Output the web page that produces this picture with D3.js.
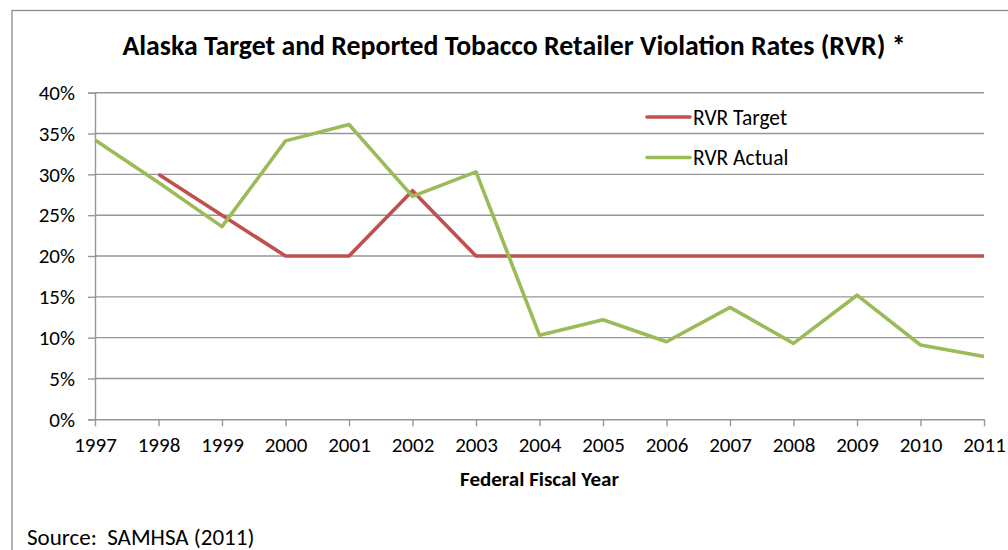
<!DOCTYPE html>
<html>
<head>
<meta charset="utf-8">
<script src="https://cdn.jsdelivr.net/npm/d3@7"></script>
<style>
  html, body { margin: 0; padding: 0; background: #fff; }
  svg { display: block; font-family: Carlito, Calibri, Lato, "Liberation Sans", sans-serif; }
  text { white-space: pre; }
</style>
</head>
<body>
<svg id="chart" width="1008" height="550"></svg>
<script>
// Fiscal years on the x axis
const years = [1997, 1998, 1999, 2000, 2001, 2002, 2003, 2004, 2005, 2006, 2007, 2008, 2009, 2010, 2011];
// Target violation rate (%), no target set for 1997
const rvrTarget = [null, 30, 25, 20, 20, 28, 20, 20, 20, 20, 20, 20, 20, 20, 20];
// Reported violation rate (%)
const rvrActual = [34.2, 29.0, 23.6, 34.1, 36.1, 27.3, 30.3, 10.3, 12.2, 9.5, 13.7, 9.3, 15.2, 9.1, 7.7];
// Y axis ticks (%)
const yTicks = [0, 5, 10, 15, 20, 25, 30, 35, 40];

const series = [
  { name: "RVR Target", values: rvrTarget, color: "#C0504D" },
  { name: "RVR Actual", values: rvrActual, color: "#9BBB59" }
];

const svg = d3.select("#chart");
const plotLeft = 95, plotRight = 984, plotTop = 92.7, plotBottom = 419.3;
const fontStack = "Carlito, Calibri, Lato, 'Liberation Sans', sans-serif";

const x = d3.scaleLinear().domain([years[0], years[years.length - 1]]).range([plotLeft, plotRight]);
const y = d3.scaleLinear().domain([0, 40]).range([plotBottom, plotTop]);

// Outer chart border
svg.append("rect")
  .attr("x", 12).attr("y", 10.5).attr("width", 1010).attr("height", 560)
  .attr("fill", "#fff").attr("stroke", "#8c8c8c").attr("stroke-width", 1.3);

// Title
svg.append("text")
  .attr("x", 514).attr("y", 55)
  .attr("text-anchor", "middle")
  .attr("font-weight", "bold").attr("font-size", 27.8)
  .text("Alaska Target and Reported Tobacco Retailer Violation Rates (RVR) *");

// Horizontal gridlines
svg.append("g")
  .selectAll("line").data(yTicks.filter(d => d > 0)).join("line")
  .attr("x1", plotLeft).attr("x2", plotRight)
  .attr("y1", d => y(d)).attr("y2", d => y(d))
  .attr("stroke", "#979797").attr("stroke-width", 1.4);

// Y axis
const yAxis = svg.append("g")
  .attr("transform", `translate(${plotLeft},0)`)
  .call(d3.axisLeft(y).tickValues(yTicks).tickSize(7).tickPadding(13).tickFormat(d => d + "%"));
yAxis.select(".domain").attr("stroke", "#979797").attr("stroke-width", 1.4);
yAxis.selectAll(".tick line").attr("stroke", "#979797").attr("stroke-width", 1.4);
yAxis.selectAll(".tick text").attr("font-size", 21).attr("fill", "#000")
  .attr("font-family", fontStack);

// X axis
const xAxis = svg.append("g")
  .attr("transform", `translate(0,${plotBottom})`)
  .call(d3.axisBottom(x).tickValues(years).tickSize(7).tickSizeOuter(0).tickPadding(11).tickFormat(d3.format("d")));
xAxis.select(".domain").attr("stroke", "#979797").attr("stroke-width", 1.4);
xAxis.selectAll(".tick line").attr("stroke", "#979797").attr("stroke-width", 1.4);
xAxis.selectAll(".tick text").attr("font-size", 21).attr("fill", "#000")
  .attr("font-family", fontStack);

// Series lines
const line = d3.line()
  .defined(d => d.v !== null)
  .x(d => x(d.year))
  .y(d => y(d.v));

svg.append("g")
  .selectAll("path").data(series).join("path")
  .attr("d", s => line(years.map((yr, i) => ({ year: yr, v: s.values[i] }))))
  .attr("fill", "none")
  .attr("stroke", s => s.color)
  .attr("stroke-width", 3.6)
  .attr("stroke-linejoin", "round");

// Legend
const legend = svg.append("g").selectAll("g").data(series).join("g")
  .attr("transform", (d, i) => `translate(647,${117 + i * 40.5})`);
legend.append("line")
  .attr("x1", 0).attr("x2", 43).attr("y1", 0).attr("y2", 0)
  .attr("stroke", d => d.color).attr("stroke-width", 3.6).attr("stroke-linecap", "round");
legend.append("text")
  .attr("x", 46).attr("y", 7.5)
  .attr("font-size", 21.5)
  .text(d => d.name);

// Axis title
svg.append("text")
  .attr("x", (plotLeft + plotRight) / 2).attr("y", 486)
  .attr("text-anchor", "middle")
  .attr("font-weight", "bold").attr("font-size", 21)
  .text("Federal Fiscal Year");

// Source note
svg.append("text")
  .attr("x", 27).attr("y", 545)
  .attr("font-size", 23)
  .text("Source:  SAMHSA (2011)");
</script>
</body>
</html>
